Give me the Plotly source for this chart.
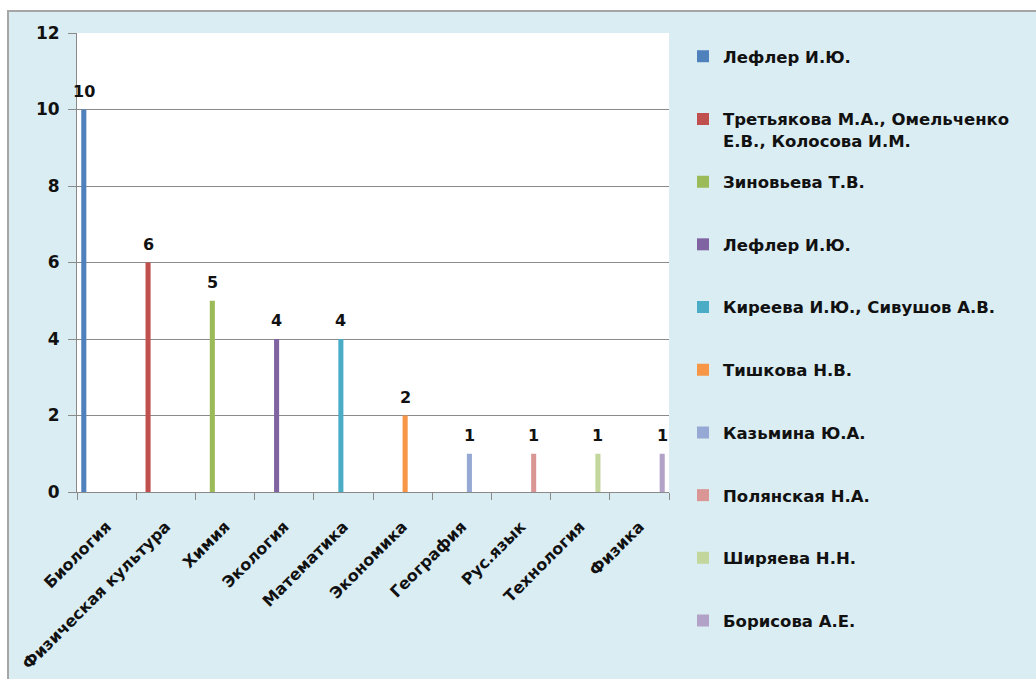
import plotly.graph_objects as go

categories = ["Биология", "Физическая культура", "Химия", "Экология", "Математика",
              "Экономика", "География", "Рус.язык", "Технология", "Физика"]
teachers = ["Лефлер И.Ю.", "Третьякова М.А., Омельченко<br>Е.В., Колосова И.М.",
            "Зиновьева Т.В.", "Лефлер И.Ю.", "Киреева И.Ю., Сивушов А.В.",
            "Тишкова Н.В.", "Казьмина Ю.А.", "Полянская Н.А.", "Ширяева Н.Н.",
            "Борисова А.Е."]
values = [10, 6, 5, 4, 4, 2, 1, 1, 1, 1]
colors = ["#4F81BD", "#C0504D", "#9BBB59", "#8064A2", "#4BACC6",
          "#F79646", "#95A9D4", "#D99694", "#C3D69B", "#B3A2C7"]
y_ticks = [0, 2, 4, 6, 8, 10, 12]

W, H = 1036, 679
L, R, T, B = 77, 669, 33, 492
pw, ph = R - L, B - T
BARGAP = 0.144
FONT = "DejaVu Sans"
TXT = "#111111"
GRID = "#8a8a8a"


def px_x(p):
    return (p - L) / pw


def px_y(p):
    return (B - p) / ph


n = len(values)
fig = go.Figure()
for i in range(n):
    yv = [values[i] if j == i else None for j in range(len(categories))]
    fig.add_trace(go.Bar(
        x=categories, y=yv, name=teachers[i],
        marker=dict(color=colors[i], line=dict(width=0)),
        legend="legend" if i == 0 else f"legend{i + 1}",
        showlegend=True,
    ))

# data labels above each bar
slot_px = pw / len(categories) * (1 - BARGAP) / n
annotations = []
for i in range(n):
    annotations.append(dict(
        x=categories[i], y=values[i], xref="x", yref="y",
        text=f"<b>{values[i]}</b>", showarrow=False,
        xshift=(i - (n - 1) / 2) * slot_px, yshift=7, yanchor="bottom",
        font=dict(family=FONT, size=16, color=TXT),
    ))

layout = dict(
    width=W, height=H,
    margin=dict(l=L, r=W - R, t=T, b=H - B, pad=0, autoexpand=False),
    paper_bgcolor="white",
    plot_bgcolor="white",
    barmode="group", bargap=BARGAP, bargroupgap=0,
    xaxis=dict(
        type="category", range=[-0.5, len(categories) - 0.5], autorange=False,
        automargin=False,
        showline=True, linecolor=GRID, linewidth=1,
        ticks="outside", tickson="boundaries", ticklen=7, tickcolor=GRID,
        tickangle=-45, showgrid=False,
        tickfont=dict(family=FONT, size=16, color=TXT, weight="bold"),
        ticklabelstandoff=18,
    ),
    yaxis=dict(
        range=[0, 12], autorange=False, automargin=False, tickvals=y_ticks,
        showline=True, linecolor=GRID, linewidth=1,
        ticks="outside", ticklen=8, tickcolor=GRID, showgrid=True, gridcolor=GRID,
        gridwidth=1, zeroline=False,
        tickfont=dict(family=FONT, size=17, color=TXT, weight="bold"),
        ticklabelstandoff=5,
    ),
    annotations=annotations,
    shapes=[
        dict(type="rect", xref="paper", yref="paper", layer="below",
             x0=px_x(8), x1=px_x(W + 10), y0=px_y(H + 10), y1=px_y(11),
             fillcolor="#DAEDF3", line=dict(color="#A6A6A6", width=2)),
        dict(type="rect", xref="paper", yref="paper", layer="below",
             x0=0, x1=1, y0=0, y1=1, fillcolor="white", line=dict(width=0)),
    ],
    showlegend=True,
)

for i in range(n):
    key = "legend" if i == 0 else f"legend{i + 1}"
    cy = 55 + 62.7 * i
    layout[key] = dict(
        x=px_x(683), y=px_y(cy - 16), xanchor="left", yanchor="top",
        bgcolor="rgba(0,0,0,0)", borderwidth=0, valign="top",
        font=dict(family=FONT, size=16.5, color=TXT, weight="bold"),
    )

fig.update_layout(**layout)
fig.write_html("out.html", config={"displayModeBar": False},
               post_script="document.body.style.margin='0';document.body.style.overflow='hidden';")
